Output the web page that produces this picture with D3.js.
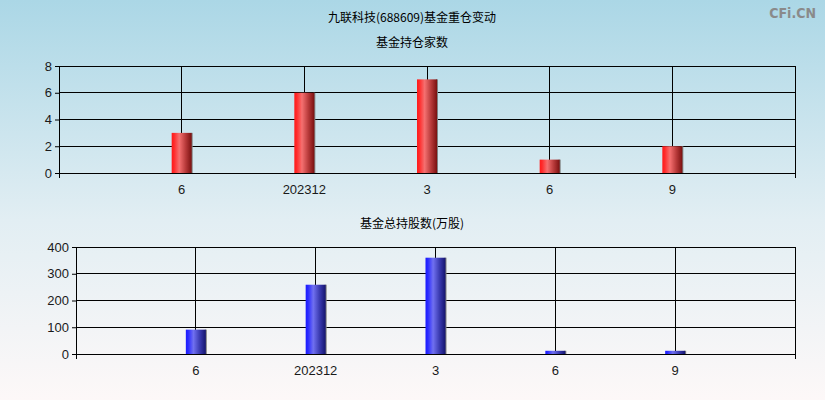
<!DOCTYPE html>
<html>
<head>
<meta charset="utf-8">
<script src="https://cdn.jsdelivr.net/npm/d3@7"></script>
<style>
  html, body { margin: 0; padding: 0; }
  body { width: 825px; height: 400px; overflow: hidden; }
</style>
</head>
<body>
<div id="chart"></div>
<script>
// categories (report periods) and values
const periods = ["6", "202312", "3", "6", "9"];
const fundCount = [3, 6, 7, 1, 2];          // 基金持仓家数
const fundShares = [91, 259, 360, 12, 12];  // 基金总持股数(万股)
const countTicks = [0, 2, 4, 6, 8];
const shareTicks = [0, 100, 200, 300, 400];

const W = 825, H = 400;
const svg = d3.select("#chart").append("svg")
  .attr("width", W).attr("height", H)
  .style("font-family", "'Liberation Sans', Arial, sans-serif");

const defs = svg.append("defs");

// page background
const bg = defs.append("linearGradient").attr("id", "bg")
  .attr("x1", 0).attr("y1", 0).attr("x2", 0).attr("y2", 1);
bg.append("stop").attr("offset", "0%").attr("stop-color", "#abd7e6");
bg.append("stop").attr("offset", "55%").attr("stop-color", "#e2eef3");
bg.append("stop").attr("offset", "100%").attr("stop-color", "#fdf8f8");
svg.append("rect").attr("width", W).attr("height", H).attr("fill", "url(#bg)");

// bar gradients (cylinder look)
const mkGrad = (id, stops) => {
  const g = defs.append("linearGradient").attr("id", id)
    .attr("x1", 0).attr("y1", 0).attr("x2", 1).attr("y2", 0);
  stops.forEach(([o, c]) => g.append("stop").attr("offset", o).attr("stop-color", c));
};
mkGrad("gRed", [["0%", "#ff1a1a"], ["12%", "#ff2a2a"], ["38%", "#f57070"], ["70%", "#b83a3a"], ["100%", "#7a1010"]]);
mkGrad("gBlue", [["0%", "#1a1aff"], ["12%", "#2a2aff"], ["38%", "#7070f0"], ["70%", "#3a3ab0"], ["100%", "#14146e"]]);

// titles
const cjk = "'Noto Sans CJK SC', sans-serif";
svg.append("text").attr("x", 412).attr("y", 22).attr("text-anchor", "middle")
  .style("font-family", cjk).style("font-size", "12px").attr("fill", "#000")
  .text("九联科技(688609)基金重仓变动");

// watermark
svg.append("text").attr("x", 816).attr("y", 18).attr("text-anchor", "end")
  .style("font-family", "'DejaVu Sans Condensed', 'DejaVu Sans', sans-serif").style("font-size", "14px")
  .style("font-weight", "bold").attr("fill", "#8a8a8a")
  .text("CFi.CN");

const drawPanel = (opt) => {
  const { left, right, top, bottom, values, ticks, grad, title, titleY, labelY } = opt;

  svg.append("text").attr("x", 412).attr("y", titleY).attr("text-anchor", "middle")
    .style("font-family", cjk).style("font-size", "12px").attr("fill", "#000")
    .text(title);

  // 7 slots: empty edge, five periods, empty edge
  const slots = d3.range(periods.length + 2);
  const x = d3.scalePoint().domain(slots).range([left, right]);
  const y = d3.scaleLinear().domain([ticks[0], ticks[ticks.length - 1]]).range([bottom, top]);

  const g = svg.append("g");

  // horizontal grid
  g.selectAll(".hg").data(ticks).enter().append("line")
    .attr("x1", left).attr("x2", right)
    .attr("y1", d => y(d)).attr("y2", d => y(d))
    .attr("stroke", "#000").attr("stroke-width", 1)
    .attr("shape-rendering", "crispEdges");

  // vertical category grid
  g.selectAll(".vg").data(periods).enter().append("line")
    .attr("x1", (d, i) => x(i + 1)).attr("x2", (d, i) => x(i + 1))
    .attr("y1", top).attr("y2", bottom)
    .attr("stroke", "#000").attr("stroke-width", 1)
    .attr("shape-rendering", "crispEdges");

  // plot border
  g.append("rect").attr("x", left).attr("y", top)
    .attr("width", right - left).attr("height", bottom - top)
    .attr("fill", "none").attr("stroke", "#000").attr("stroke-width", 1)
    .attr("shape-rendering", "crispEdges");

  // bars with shadow
  const bw = 20;
  g.selectAll(".sh").data(values).enter().append("rect")
    .attr("x", (d, i) => x(i + 1) + bw / 2 - 1)
    .attr("y", d => y(d))
    .attr("width", 2)
    .attr("height", d => bottom - y(d))
    .attr("fill", "#808080");
  g.selectAll(".bar").data(values).enter().append("rect")
    .attr("x", (d, i) => x(i + 1) - bw / 2)
    .attr("y", d => y(d))
    .attr("width", bw)
    .attr("height", d => bottom - y(d))
    .attr("fill", `url(#${grad})`);

  // y axis
  const yAxis = g.append("g").attr("transform", `translate(${left},0)`)
    .call(d3.axisLeft(y).tickValues(ticks).tickSize(4).tickPadding(3).tickFormat(d3.format("d")));
  yAxis.select(".domain").attr("stroke", "#000");
  yAxis.selectAll("line").attr("stroke", "#000");
  yAxis.selectAll("text").attr("fill", "#1a1a1a").style("font-size", "13px");

  // x axis: only edge ticks extend below
  const xAxis = g.append("g").attr("transform", `translate(0,${bottom})`)
    .call(d3.axisBottom(x).tickValues([0, slots.length - 1]).tickSize(5).tickFormat(""));
  xAxis.select(".domain").remove();
  xAxis.selectAll("line").attr("stroke", "#000");

  g.selectAll(".xl").data(periods).enter().append("text")
    .attr("x", (d, i) => x(i + 1)).attr("y", labelY)
    .attr("text-anchor", "middle").attr("fill", "#1a1a1a")
    .style("font-size", "13px")
    .text(d => d);
};

drawPanel({
  left: 59, right: 795, top: 66, bottom: 173,
  values: fundCount, ticks: countTicks, grad: "gRed",
  title: "基金持仓家数", titleY: 47, labelY: 194
});

drawPanel({
  left: 76, right: 795, top: 247, bottom: 354,
  values: fundShares, ticks: shareTicks, grad: "gBlue",
  title: "基金总持股数(万股)", titleY: 228, labelY: 375
});
</script>
</body>
</html>
